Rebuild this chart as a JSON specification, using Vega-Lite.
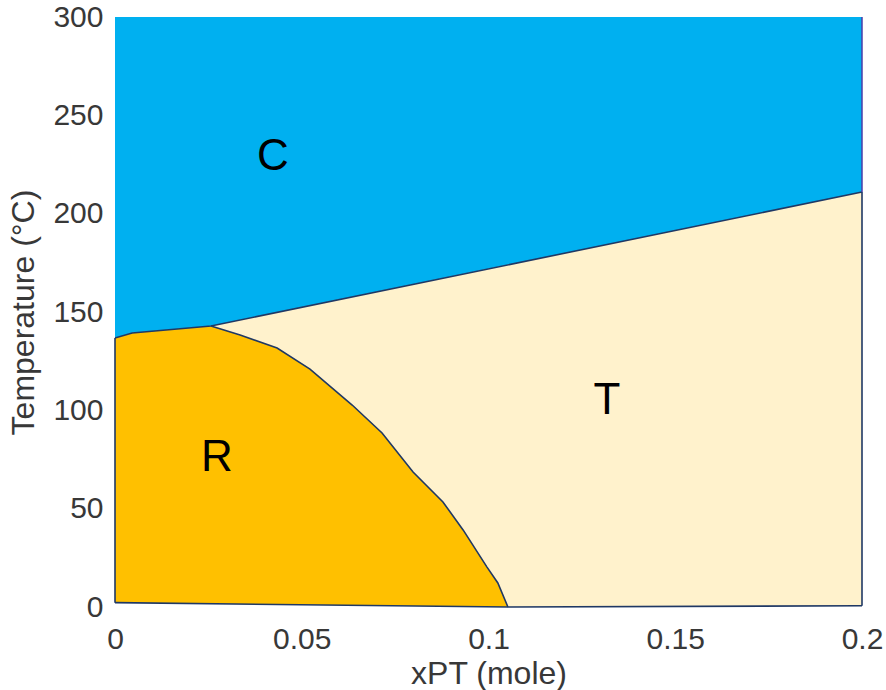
{
  "$schema": "https://vega.github.io/schema/vega-lite/v6.json",
  "width": 747,
  "height": 590,
  "autosize": {"type": "none"},
  "padding": {"left": 115, "top": 17, "right": 24, "bottom": 83},
  "background": "white",
  "config": {
    "view": {"stroke": null},
    "font": "Liberation Sans",
    "axis": {
      "domain": false,
      "ticks": false,
      "grid": false,
      "labelFlush": false,
      "labelOverlap": false,
      "labelFont": "Liberation Sans",
      "labelFontSize": 30,
      "labelColor": "#383838",
      "titleFont": "Liberation Sans",
      "titleFontSize": 32,
      "titleFontWeight": "normal",
      "titleColor": "#383838"
    }
  },
  "datasets": {
    "areas": [
      {"region": "C", "x": 0, "lo": 136.8, "hi": 300},
      {"region": "C", "x": 0.0046, "lo": 139.3, "hi": 300},
      {"region": "C", "x": 0.0257, "lo": 142.9, "hi": 300},
      {"region": "C", "x": 0.2, "lo": 211, "hi": 300},
      {"region": "T", "x": 0, "lo": 2.2, "hi": 136.8},
      {"region": "T", "x": 0.0046, "lo": 2.1, "hi": 139.3},
      {"region": "T", "x": 0.0257, "lo": 1.66, "hi": 142.9},
      {"region": "T", "x": 0.1052, "lo": 0, "hi": 174},
      {"region": "T", "x": 0.2, "lo": 0.6, "hi": 211},
      {"region": "R", "x": 0, "lo": 2.2, "hi": 136.8},
      {"region": "R", "x": 0.0046, "lo": 2.1, "hi": 139.3},
      {"region": "R", "x": 0.0257, "lo": 1.66, "hi": 142.9},
      {"region": "R", "x": 0.0335, "lo": 1.5, "hi": 138.3},
      {"region": "R", "x": 0.0434, "lo": 1.29, "hi": 131.7},
      {"region": "R", "x": 0.0522, "lo": 1.11, "hi": 121.0},
      {"region": "R", "x": 0.0635, "lo": 0.87, "hi": 102.7},
      {"region": "R", "x": 0.0715, "lo": 0.7, "hi": 88.5},
      {"region": "R", "x": 0.0798, "lo": 0.53, "hi": 68.6},
      {"region": "R", "x": 0.0878, "lo": 0.36, "hi": 53.4},
      {"region": "R", "x": 0.0932, "lo": 0.25, "hi": 39.2},
      {"region": "R", "x": 0.0996, "lo": 0.12, "hi": 20.3},
      {"region": "R", "x": 0.1025, "lo": 0.06, "hi": 12.2},
      {"region": "R", "x": 0.1052, "lo": 0, "hi": 0}
    ],
    "lines": [
      {"seg": "CB", "ord": 1, "x": 0, "t": 136.8},
      {"seg": "CB", "ord": 2, "x": 0.0046, "t": 139.3},
      {"seg": "CB", "ord": 3, "x": 0.0257, "t": 142.9},
      {"seg": "CB", "ord": 4, "x": 0.2, "t": 211},
      {"seg": "RT", "ord": 1, "x": 0.0257, "t": 142.9},
      {"seg": "RT", "ord": 2, "x": 0.0335, "t": 138.3},
      {"seg": "RT", "ord": 3, "x": 0.0434, "t": 131.7},
      {"seg": "RT", "ord": 4, "x": 0.0522, "t": 121.0},
      {"seg": "RT", "ord": 5, "x": 0.0635, "t": 102.7},
      {"seg": "RT", "ord": 6, "x": 0.0715, "t": 88.5},
      {"seg": "RT", "ord": 7, "x": 0.0798, "t": 68.6},
      {"seg": "RT", "ord": 8, "x": 0.0878, "t": 53.4},
      {"seg": "RT", "ord": 9, "x": 0.0932, "t": 39.2},
      {"seg": "RT", "ord": 10, "x": 0.0996, "t": 20.3},
      {"seg": "RT", "ord": 11, "x": 0.1025, "t": 12.2},
      {"seg": "RT", "ord": 12, "x": 0.1052, "t": 0},
      {"seg": "BOT", "ord": 1, "x": 0, "t": 2.2},
      {"seg": "BOT", "ord": 2, "x": 0.1052, "t": 0},
      {"seg": "BOT", "ord": 3, "x": 0.2, "t": 0.6},
      {"seg": "LEFT", "ord": 1, "x": 0, "t": 2.2},
      {"seg": "LEFT", "ord": 2, "x": 0, "t": 136.8},
      {"seg": "RIGHT", "ord": 1, "x": 0.2, "t": 0.6},
      {"seg": "RIGHT", "ord": 2, "x": 0.2, "t": 211}
    ],
    "edge": [
      {"x": 0.2, "t": 211},
      {"x": 0.2, "t": 300}
    ],
    "labels": [
      {"text": "C", "x": 0.0423, "t": 229},
      {"text": "R", "x": 0.0273, "t": 76},
      {"text": "T", "x": 0.1317, "t": 105}
    ]
  },
  "encoding": {
    "x": {
      "field": "x",
      "type": "quantitative",
      "scale": {"domain": [0, 0.2], "nice": false, "zero": false},
      "axis": {"values": [0, 0.05, 0.1, 0.15, 0.2], "format": "~g", "title": "xPT (mole)", "labelPadding": 17, "titlePadding": 4}
    }
  },
  "layer": [
    {
      "data": {"name": "areas"},
      "mark": {"type": "area", "interpolate": "linear", "opacity": 1},
      "encoding": {
        "y": {
          "field": "lo",
          "type": "quantitative",
          "scale": {"domain": [0, 300], "nice": false},
          "axis": {"values": [0, 50, 100, 150, 200, 250, 300], "title": "Temperature (°C)", "labelPadding": 12, "titlePadding": 12}
        },
        "y2": {"field": "hi"},
        "color": {
          "field": "region",
          "type": "nominal",
          "scale": {"domain": ["C", "T", "R"], "range": ["#00B0F0", "#FFF2CC", "#FFC000"]},
          "legend": null
        },
        "order": {"field": "region", "sort": "ascending"}
      }
    },
    {
      "data": {"name": "lines"},
      "mark": {"type": "line", "color": "#1F3864", "strokeWidth": 1.6},
      "encoding": {
        "y": {"field": "t", "type": "quantitative"},
        "detail": {"field": "seg"},
        "order": {"field": "ord"}
      }
    },
    {
      "data": {"name": "edge"},
      "mark": {"type": "line", "color": "#4B3CA8", "strokeWidth": 1.5},
      "encoding": {
        "y": {"field": "t", "type": "quantitative"}
      }
    },
    {
      "data": {"name": "labels"},
      "mark": {"type": "text", "fontSize": 44, "color": "#000000", "font": "Liberation Sans", "align": "center", "baseline": "middle"},
      "encoding": {
        "y": {"field": "t", "type": "quantitative"},
        "text": {"field": "text"}
      }
    }
  ]
}
